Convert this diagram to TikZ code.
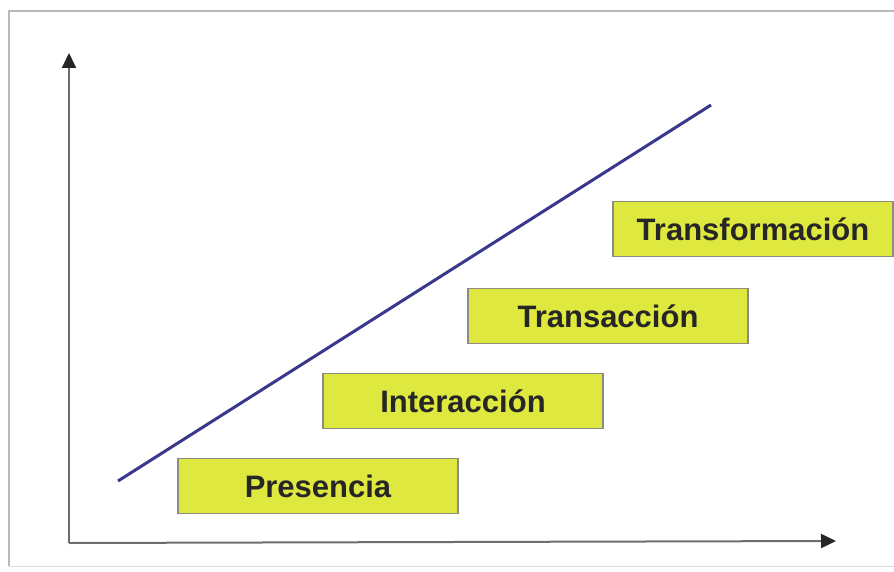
\documentclass[tikz,border=0pt]{standalone}
\usepackage{fontspec}
\setmainfont{Liberation Sans}
\usepackage{tikz}
\usetikzlibrary{
    arrows.meta,
    positioning
}

\definecolor{stagefill}{RGB}{222,232,62}
\definecolor{stageline}{RGB}{140,140,130}
\definecolor{trendblue}{RGB}{58,56,140}
\definecolor{axisgray}{RGB}{110,108,110}
\definecolor{framegray}{RGB}{185,185,185}

\tikzset{
  stagebox/.style={
    draw=stageline,
    fill=stagefill,
    line width=1.2pt,
    minimum width=280pt,
    minimum height=55pt,
    inner sep=0pt,
    font=\fontsize{31}{36}\selectfont\bfseries,
    text=black!85
  },
  axisline/.style={
    draw=axisgray,
    line width=2pt,
    -{Triangle[length=15pt,width=14pt,color=black!85]}
  }
}

\begin{document}
\begin{tikzpicture}[x=1pt, y=-1pt]

  \useasboundingbox (0,0) rectangle (894,572);

  % frame {{{
  \draw[framegray, line width=1.5pt] (9,566) -- (9,11) -- (894,11);
  \draw[framegray!50, line width=1pt] (9,566) -- (894,566);
  % }}}

  % axes {{{
  \coordinate (origin) at (69,543);
  \coordinate (ytip) at (69,53);
  \coordinate (xtip) at (836,541);
  \draw[axisline] (origin) -- (ytip);
  \draw[axisline] (origin) -- (xtip);
  % }}}

  % trend {{{
  \coordinate (trendstart) at (118,481);
  \coordinate (trendend) at (711,105);
  \draw[trendblue, line width=3pt] (trendstart) -- (trendend);
  % }}}

  % stages {{{
  \node[stagebox] (presencia) at (318,486) {Presencia};
  \node[stagebox] (interaccion) at (463,401) {Interacción};
  \node[stagebox] (transaccion) at (608,316) {Transacción};
  \node[stagebox] (transformacion) at (753,229) {Transformación};
  % }}}

\end{tikzpicture}
\end{document}
